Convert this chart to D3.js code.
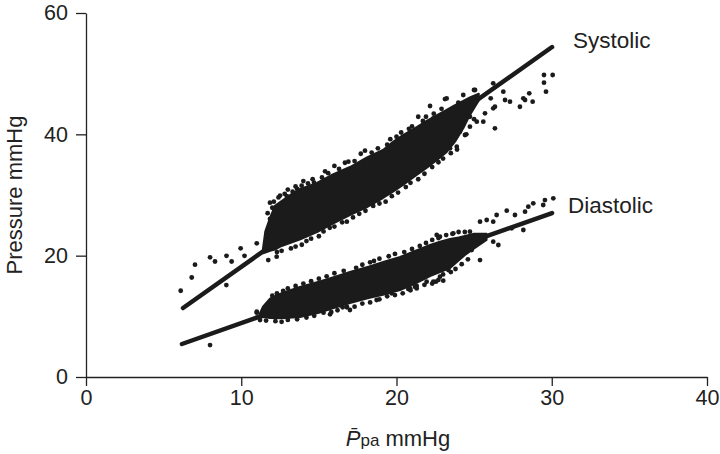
<!DOCTYPE html>
<html><head><meta charset="utf-8">
<script src="https://cdn.jsdelivr.net/npm/d3@7"></script>
<style>
html,body{margin:0;padding:0;background:#fff;}
svg{display:block;font-family:"Liberation Sans",Arial,Helvetica,sans-serif;}
</style></head>
<body>
<svg id="c" width="720" height="454"></svg>
<script>
// ---- data ----
const xTicks = [0, 10, 20, 30, 40];
const yTicks = [0, 20, 40, 60];
const seriesNames = ["Systolic", "Diastolic"];

// dense regression-like lines [x, y] endpoints
const sysLine = [[6.25, 11.37], [30.02, 54.39]];
const diaLine = [[6.18, 5.44], [30.02, 27.03]];

// dense cloud envelopes (x, upper, lower) in mmHg
const sysCloudX   = [11.40, 11.55, 11.85, 12.17, 12.60, 13.14, 13.80, 14.88, 15.90, 17.00, 18.10, 19.13, 19.80, 20.42, 21.30, 22.00, 22.61, 23.20, 23.77, 24.30, 24.73, 25.30];
const sysCloudTop = [21.20, 24.00, 26.20, 28.20, 29.00, 30.00, 31.00, 31.98, 33.40, 34.61, 36.20, 37.42, 38.80, 39.89, 41.20, 42.30, 43.18, 44.00, 44.83, 45.50, 46.10, 46.70];
const sysCloudBot = [20.40, 20.50, 20.80, 21.00, 21.60, 22.09, 22.70, 23.90, 25.30, 26.70, 28.00, 29.50, 30.60, 31.65, 33.30, 34.60, 35.77, 37.00, 38.80, 41.00, 43.20, 45.60];

const diaCloudX   = [11.20, 11.40, 11.85, 12.60, 13.78, 15.00, 16.00, 17.00, 18.20, 19.20, 20.23, 21.20, 22.16, 22.80, 23.45, 24.00, 24.41, 25.00, 25.80];
const diaCloudTop = [10.50, 11.60, 12.90, 13.80, 14.83, 15.70, 16.50, 17.31, 18.20, 19.00, 19.78, 20.80, 21.76, 22.30, 22.75, 23.00, 23.24, 23.60, 23.60];
const diaCloudBot = [ 9.80,  9.90,  9.72,  9.70,  9.89, 10.60, 11.40, 12.20, 13.00, 13.60, 14.34, 15.40, 16.65, 17.30, 17.97, 19.20, 20.11, 21.20, 22.60];

// individual scattered points
const sysPointsX = [6.10, 6.81, 7.02, 7.99, 8.31, 9.05, 9.38, 9.96, 10.21, 11.00, 9.04, 11.74, 12.28, 11.85, 11.85, 11.64, 12.93, 13.31, 13.89, 14.69, 16.68, 17.97,
  22.16, 23.12, 23.98, 24.30, 24.99, 21.40, 22.37, 24.73, 25.17, 25.70, 26.23, 26.34, 25.59, 24.73, 24.09, 24.41, 23.88, 22.91, 23.45, 22.59, 21.51, 20.87, 21.62, 21.19, 20.44, 23.23, 23.56,
  29.50, 30.06, 29.50, 29.63, 28.55, 28.17, 28.77, 27.95, 28.28, 27.31, 26.99, 25.06, 26.88, 26.23, 26.07, 26.34, 23.23, 24.00, 24.41, 23.45, 22.91,
  12.40, 12.80, 13.60, 14.30, 15.20, 15.60, 16.30, 17.30, 18.40, 19.40, 20.00, 20.80, 21.70, 22.40, 22.90, 11.70, 12.10,
  12.60, 13.20, 13.90, 14.50, 15.30, 16.00, 16.80, 17.60, 18.50, 19.30, 20.10, 20.90, 21.80, 22.30, 23.00, 23.90, 24.50, 25.00,
  12.00, 12.50, 13.00, 13.50, 14.00, 14.60, 15.40, 16.00, 16.90, 17.70, 18.80, 19.60, 20.30, 21.00, 21.90,
  12.30, 13.50, 14.20, 15.00, 15.70, 16.50, 17.20, 18.00, 18.90, 19.70, 20.60, 21.40, 22.70, 23.50];
const sysPointsY = [14.22, 16.40, 18.51, 19.73, 19.04, 19.98, 19.04, 21.21, 19.98, 22.04, 15.16, 19.28, 19.83, 28.73, 26.04, 23.57, 29.83, 30.54, 31.53, 32.03, 35.32, 37.30,
  44.67, 45.82, 45.21, 46.48, 47.31, 42.90, 42.64, 42.90, 42.08, 43.46, 44.29, 40.99, 42.08, 41.26, 40.43, 39.89, 37.96, 37.14, 38.78, 38.24, 34.40, 34.12, 36.05, 36.31, 33.30, 40.43, 39.61,
  49.78, 49.78, 48.51, 47.03, 46.76, 45.94, 45.38, 44.55, 45.66, 45.38, 45.66, 47.31, 47.03, 48.41, 45.94, 44.55, 45.92, 44.00, 43.00, 37.70, 37.40,
  29.60, 30.20, 31.00, 31.90, 32.90, 33.60, 34.30, 35.60, 37.00, 38.30, 39.60, 40.90, 42.20, 43.40, 44.20, 27.00, 28.90,
  20.80, 21.20, 21.80, 22.80, 24.00, 24.80, 25.60, 26.90, 28.20, 28.90, 30.40, 32.00, 33.50, 34.60, 36.00, 37.50, 40.00, 42.50,
  27.90, 29.90, 30.90, 31.40, 32.30, 32.60, 33.90, 34.80, 35.50, 36.80, 37.70, 39.20, 40.30, 41.30, 42.90,
  20.60, 21.50, 22.40, 23.20, 24.60, 25.50, 26.30, 27.40, 28.60, 29.80, 31.30, 32.60, 35.40, 36.90];

const diaPointsX = [7.99, 11.00, 15.72, 17.00, 16.53, 18.72, 19.69, 20.76, 21.30, 21.94, 22.54, 23.01, 18.55, 22.80, 22.59,
  30.10, 29.56, 29.45, 28.81, 28.49, 28.28, 27.63, 27.10, 26.45, 25.81, 25.38, 26.23, 28.17, 27.42, 26.56, 26.23, 24.73, 23.66, 23.34, 22.80, 22.37, 22.05, 21.19, 20.87, 25.38, 24.84, 25.17,
  15.61, 16.36, 16.80, 11.00, 11.21,
  12.30, 13.00, 14.00, 15.00, 16.00, 17.40, 18.30, 19.50, 20.50, 21.50, 22.30, 23.20, 24.00,
  12.20, 13.00, 14.20, 15.30, 16.20, 17.30, 18.30, 19.40, 20.40, 21.30, 22.30, 23.00, 23.80, 24.60,
  12.00, 12.70, 13.50, 14.50, 15.50, 16.60, 17.80, 18.90, 19.90, 21.00, 21.90, 22.70, 23.60, 24.40,
  11.60, 12.60, 13.60, 14.70, 15.80, 16.80, 17.80, 18.90, 19.90, 20.90, 21.80, 22.70, 23.50, 24.20];
const diaPointsY = [5.27, 10.60, 10.33, 11.04, 11.49, 12.69, 13.80, 14.50, 15.00, 15.71, 15.71, 15.87, 19.12, 23.12, 23.41,
  29.45, 29.17, 28.35, 28.63, 28.07, 27.25, 26.70, 27.41, 26.70, 25.88, 25.60, 25.60, 24.23, 24.51, 21.76, 22.30, 23.95, 23.69, 17.64, 16.53, 15.71, 17.09, 14.88, 14.62, 19.28, 20.93, 22.86,
  11.32, 11.87, 11.60, 10.77, 9.39,
  13.80, 14.60, 15.40, 16.20, 17.10, 18.00, 18.90, 19.90, 20.60, 21.60, 22.60, 23.40, 23.90,
  9.20, 9.40, 9.80, 10.60, 11.00, 11.60, 12.30, 13.30, 13.80, 14.60, 15.40, 16.90, 17.80, 19.40,
  13.40, 14.20, 15.00, 15.80, 16.60, 17.50, 18.50, 19.50, 20.30, 21.10, 22.10, 22.90, 23.60, 23.90,
  9.30, 9.10, 9.50, 10.10, 10.70, 11.50, 12.10, 12.80, 13.50, 14.30, 15.20, 16.00, 17.30, 18.60];

// ---- drawing ----
const svg = d3.select("#c");
const x = d3.scaleLinear().domain([0, 40]).range([86, 707]);
const y = d3.scaleLinear().domain([0, 60]).range([377, 13]);
const ink = "#1b1b1b";

function drawCloud(X, T, B) {
  const pts = X.map((v, i) => ({x: v, t: T[i], b: B[i]}));
  svg.append("path").datum(pts)
    .attr("d", d3.area().x(d => x(d.x)).y0(d => y(d.b)).y1(d => y(d.t)).curve(d3.curveLinear))
    .attr("fill", ink).attr("stroke", ink).attr("stroke-width", 2).attr("stroke-linejoin", "round");
}
drawCloud(sysCloudX, sysCloudTop, sysCloudBot);
drawCloud(diaCloudX, diaCloudTop, diaCloudBot);

function drawLine(L) {
  svg.append("path").datum(L)
    .attr("d", d3.line().x(d => x(d[0])).y(d => y(d[1])))
    .attr("stroke", ink).attr("stroke-width", 4.5).attr("stroke-linecap", "round").attr("fill", "none");
}
drawLine(sysLine);
drawLine(diaLine);

function drawPoints(X, Y) {
  svg.append("g").selectAll("circle").data(X.map((v, i) => [v, Y[i]])).join("circle")
    .attr("cx", d => x(d[0])).attr("cy", d => y(d[1])).attr("r", 2.4).attr("fill", ink);
}
drawPoints(sysPointsX, sysPointsY);
drawPoints(diaPointsX, diaPointsY);

// axes
const gy = svg.append("g").attr("transform", "translate(86,0)")
  .call(d3.axisLeft(y).tickValues(yTicks).tickSize(10).tickSizeOuter(0).tickPadding(8));
const gx = svg.append("g").attr("transform", "translate(0,377)")
  .call(d3.axisBottom(x).tickValues(xTicks).tickSize(9).tickSizeOuter(0).tickPadding(4));
[gx, gy].forEach(g => {
  g.selectAll("path,line").attr("stroke", "#222").attr("stroke-width", 1.3);
  g.selectAll("text").attr("font-size", 21.5).attr("fill", "#222")
    .attr("font-family", "'Liberation Sans',Arial,sans-serif");
});

// axis titles
svg.append("text").attr("transform", "translate(22,195) rotate(-90)")
  .attr("text-anchor", "middle").attr("font-size", 22).attr("fill", "#222").text("Pressure mmHg");

const xt = svg.append("text").attr("x", 398).attr("y", 446).attr("text-anchor", "middle")
  .attr("font-size", 22).attr("fill", "#222");
xt.append("tspan").attr("font-style", "italic").text("P\u0304");
xt.append("tspan").attr("font-size", 17).text("pa");
xt.append("tspan").text(" mmHg");

// series labels
svg.append("text").attr("x", 573).attr("y", 48).attr("font-size", 22.5).attr("fill", "#222").text(seriesNames[0]);
svg.append("text").attr("x", 568).attr("y", 213).attr("font-size", 22.5).attr("fill", "#222").text(seriesNames[1]);
</script>
</body></html>
